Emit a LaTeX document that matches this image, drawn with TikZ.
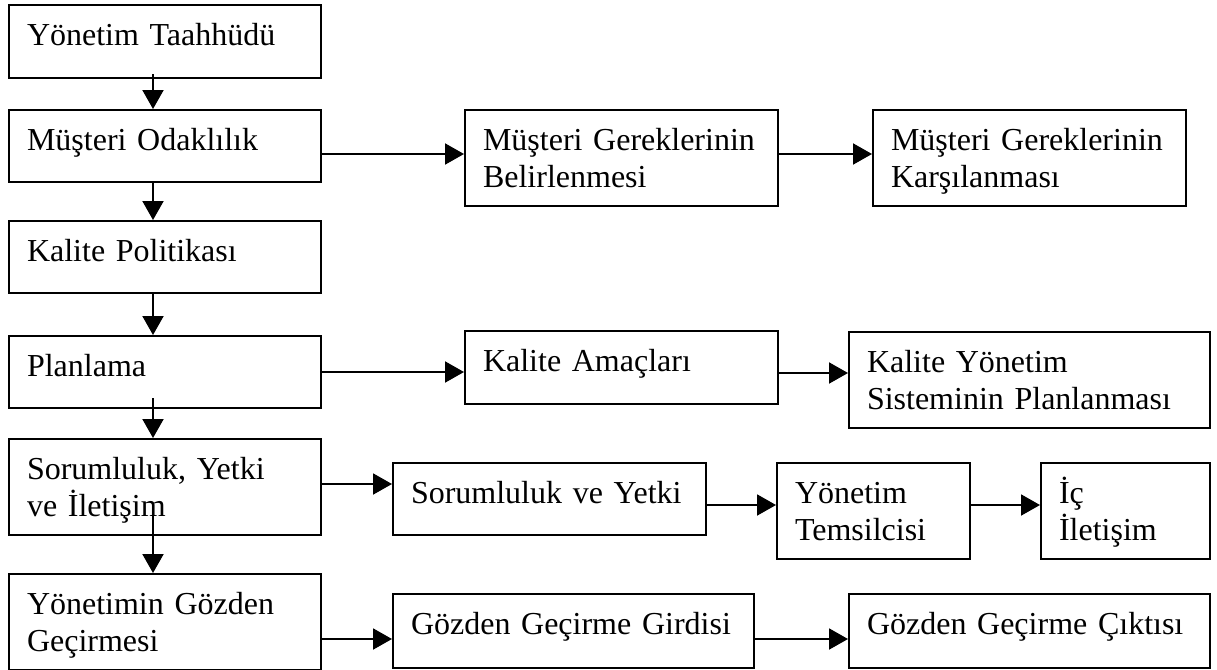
\documentclass[tikz,border=0pt]{standalone}
\usepackage{fontspec}
\setmainfont{Liberation Serif}
\usepackage{tikz}
\usetikzlibrary{arrows.meta}
\hyphenpenalty=10000

\begin{document}
\begin{tikzpicture}[
  x=0.5pt, y=-0.5pt,
  kutu/.style={draw, line width=1pt, anchor=north west, align=left,
               font=\fontsize{16}{18.9}\selectfont,
               inner xsep=9pt, inner ysep=0pt, text height=20pt},
  solkutu/.style={kutu, text width=138pt},
  genis/.style={kutu, text width=162.5pt},
  arrow/.style={-{Triangle[length=9.5pt, width=10.5pt]}, line width=1pt}
]
\useasboundingbox (0,0) rectangle (1217,670);

% Nodes (left column)
\node[solkutu, text depth=16.5pt] (taahhut) at (8,4) {Yönetim Taahhüdü};
\node[solkutu, text depth=16pt] (odak) at (8,109) {Müşteri Odaklılık};
\node[solkutu, text depth=16pt] (politika) at (8,220) {Kalite Politikası};
\node[solkutu, text depth=16pt] (planlama) at (8,335) {Planlama};
\node[solkutu, text depth=28pt] (sorumluluk) at (8,438) {Sorumluluk, Yetki\\ve İletişim};
\node[solkutu, text depth=28pt] (gozden) at (8,573) {Yönetimin Gözden\\Geçirmesi};

% Nodes (right side)
\node[kutu, text width=138.5pt, text depth=28pt] (belirle) at (464,109) {Müşteri Gereklerinin\\Belirlenmesi};
\node[kutu, text width=138.5pt, text depth=28pt] (karsila) at (872,109) {Müşteri Gereklerinin\\Karşılanması};
\node[kutu, text width=138.5pt, text depth=16.5pt] (amac) at (464,330) {Kalite Amaçları};
\node[genis, text depth=28pt] (kys) at (848,331) {Kalite Yönetim\\Sisteminin Planlanması};
\node[kutu, text width=138.5pt, text depth=16pt] (yetki) at (392,462) {Sorumluluk ve Yetki};
\node[kutu, text width=78.5pt, text depth=28pt] (temsilci) at (776,462) {Yönetim\\Temsilcisi};
\node[kutu, text width=66.5pt, text depth=28pt] (ic) at (1040,462) {İç\\İletişim};
\node[genis, text depth=17pt] (girdi) at (392,593) {Gözden Geçirme Girdisi};
\node[genis, text depth=17pt] (cikti) at (848,593) {Gözden Geçirme Çıktısı};

% Arrows (down the left column)
\draw[arrow] ([xshift=-6pt, yshift=2.5pt]taahhut.south) -- ([xshift=-6pt]odak.north);
\draw[arrow] ([xshift=-6pt]odak.south) -- ([xshift=-6pt]politika.north);
\draw[arrow] ([xshift=-6pt]politika.south) -- ([xshift=-6pt]planlama.north);
\draw[arrow] ([xshift=-6pt, yshift=5.5pt]planlama.south) -- ([xshift=-6pt]sorumluluk.north);
\draw[arrow] ([xshift=-6pt, yshift=13pt]sorumluluk.south) -- ([xshift=-6pt]gozden.north);

% Arrows (rows to the right)
\draw[arrow] ([yshift=-4pt]odak.east) -- ([yshift=-4pt]odak.east -| belirle.west);
\draw[arrow] ([yshift=2pt]belirle.east) -- ([yshift=2pt]belirle.east -| karsila.west);
\draw[arrow] (planlama.east) -- (planlama.east -| amac.west);
\draw[arrow] ([yshift=-2.75pt]amac.east) -- ([yshift=-2.75pt]amac.east -| kys.west);
\draw[arrow] ([yshift=1.5pt]sorumluluk.east) -- ([yshift=1.5pt]sorumluluk.east -| yetki.west);
\draw[arrow] ([yshift=-3pt]yetki.east) -- ([yshift=-3pt]yetki.east -| temsilci.west);
\draw[arrow] ([yshift=3pt]temsilci.east) -- ([yshift=3pt]temsilci.east -| ic.west);
\draw[arrow] ([yshift=-8.5pt]gozden.east) -- ([yshift=-8.5pt]gozden.east -| girdi.west);
\draw[arrow] ([yshift=-4pt]girdi.east) -- ([yshift=-4pt]girdi.east -| cikti.west);

\end{tikzpicture}
\end{document}
